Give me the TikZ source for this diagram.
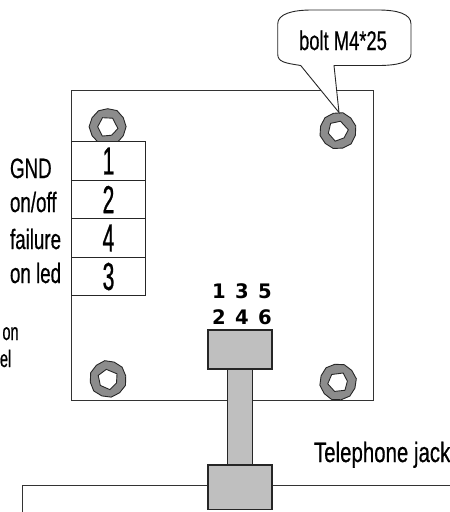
\documentclass[tikz,border=0pt]{standalone}
\usepackage{fontspec}
\setmainfont{Liberation Sans}
\newfontfamily\condf[FakeStretch=0.67,FakeBold=0.5]{Liberation Sans}
\newfontfamily\telf[FakeStretch=0.73,FakeBold=0.5]{Liberation Sans}
\newfontfamily\boltf[FakeStretch=0.68,FakeBold=0.5]{Liberation Sans}
\newfontfamily\smallf[FakeStretch=0.6,FakeBold=0.5]{Liberation Sans}
\newfontfamily\digf[FakeStretch=0.54,FakeBold=0.7]{Liberation Sans}
\newfontfamily\boldf[FakeStretch=0.98]{DejaVu Sans Bold}
\tikzset{
  part/.style={draw=black!85,line width=1.1pt,fill=black!25,inner sep=0pt,outer sep=0pt},
  pinbox/.style={draw=black!85,line width=1pt,fill=white,inner sep=0pt,outer sep=0pt,minimum width=73.5pt,minimum height=38.5pt,font=\digf\fontsize{39}{39}\selectfont},
  lbl/.style={inner sep=0pt,outer sep=0pt,anchor=base west,font=\condf\fontsize{28}{28}\selectfont},
  lbls/.style={inner sep=0pt,outer sep=0pt,anchor=base west,font=\smallf\fontsize{24}{24}\selectfont},
  dig/.style={inner sep=0pt,outer sep=0pt,anchor=base,font=\boldf\fontsize{20}{20}\selectfont},
  edge/.style={draw=black!80,line width=1pt},
  boltouter/.style={draw=black!85,line width=.9pt,fill=black!45},
  boltinner/.style={draw=black!85,line width=.9pt,fill=white}
}
\newcommand{\boltat}[3]{%
  \path[boltouter,shift={(#1,#2)},rotate=#3] (0:18.4) -- (30:18) -- (60:18.6) -- (90:18) -- (120:18.4) -- (150:18) -- (180:18.6) -- (210:18) -- (240:18.4) -- (270:18) -- (300:18.6) -- (330:18) -- cycle;
  \path[boltinner,shift={(#1,#2)},rotate=#3] (10:10.4) -- (65:9.4) -- (120:10.8) -- (180:10) -- (240:10.4) -- (300:9.8) -- cycle;
}
\begin{document}
\begin{tikzpicture}[x=1pt,y=-1pt]
\useasboundingbox (0,0) rectangle (450,512);
\clip (0,0) rectangle (450,512);
\fill[white] (0,0) rectangle (450,512);
% board
\draw[edge] (71,90) rectangle (373.5,400.5);
% bolts
\boltat{107.7}{126.7}{0}
\boltat{338}{130.7}{15}
\boltat{108}{379}{40}
\boltat{338}{382}{70}
% pin table
\node[pinbox] (p1) at (108.5,161) {1};
\node[pinbox] (p2) at (108.5,199.5) {2};
\node[pinbox] (p4) at (108.5,238) {4};
\node[pinbox] (p3) at (108.5,276.5) {3};
% pin labels
\node[lbl] (lgnd) at (10,178) {GND};
\node[lbl] (lonoff) at (10,212) {on/off};
\node[lbl] (lfail) at (10,249) {failure};
\node[lbl] (lonled) at (10,283) {on led};
\node[lbls] (lon) at (2.5,340) {on};
\node[lbls] (lel) at (0,367) {el};
% digits
\node[dig] (d1) at (219,298) {1};
\node[dig] (d3) at (242,298) {3};
\node[dig] (d5) at (265,298) {5};
\node[dig] (d2) at (219,324) {2};
\node[dig] (d4) at (242,324) {4};
\node[dig] (d6) at (265,324) {6};
% jack base line
\draw[edge] (22,512) -- (22,485) -- (450,485);
% connector
\node[part,minimum width=25.5pt,minimum height=97pt] (stem) at (240,417) {};
\node[part,minimum width=64pt,minimum height=39pt] (plug) at (240,349.5) {};
\node[part,minimum width=64pt,minimum height=44.5pt] (jack) at (240,487.2) {};
\node[inner sep=0pt,outer sep=0pt,anchor=base west,font=\telf\fontsize{28}{28}\selectfont] (ltel) at (314,462) {Telephone jack};
% callout
\draw[draw=black!85,line width=.9pt,fill=white]
  (300.7,65.5) .. controls (285,63) and (277.7,62) .. (277.7,54)
  -- (277.7,24) .. controls (277.7,14) and (292,10) .. (312,10)
  -- (378,10) .. controls (398,10) and (411,14) .. (411,24)
  -- (411,54) .. controls (411,62) and (398,65.5) .. (378,65.5)
  -- (334,65.5) -- (339,112.5) -- cycle;
\node[inner sep=0pt,outer sep=0pt,anchor=base,font=\boltf\fontsize{27}{27}\selectfont] (lbolt) at (343,50) {bolt M4*25};
\end{tikzpicture}
\end{document}
